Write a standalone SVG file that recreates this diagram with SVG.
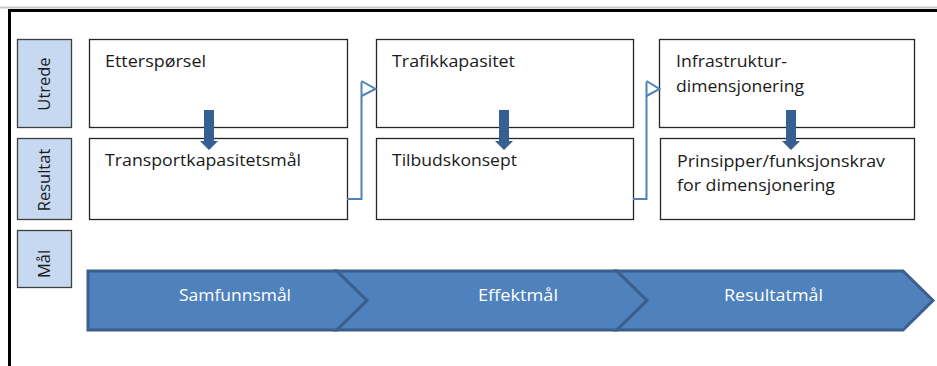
<svg xmlns="http://www.w3.org/2000/svg" width="937" height="366" viewBox="0 0 937 366">
<style>
.side{fill:#c6d9f1;stroke:#3f3f3f;stroke-width:1.3}
.box{fill:#fff;stroke:#262626;stroke-width:1.3}
.t{font-family:"Open Sans","Liberation Sans",sans-serif;font-size:16.5px;fill:#1a1a1a}
.st{font-family:"Open Sans","Liberation Sans",sans-serif;font-size:16.5px;fill:#1a1a1a;text-anchor:middle}
.w{font-family:"Open Sans","Liberation Sans",sans-serif;font-size:16.5px;fill:#fff}
.chev{fill:#4f81bd;stroke:#3a5f8e;stroke-width:3;stroke-linejoin:miter}
.down{fill:#376092}
.elbow{fill:none;stroke:#4f81bd;stroke-width:2}
</style>
<rect width="937" height="366" fill="#fff"/>
<line x1="0" y1="7.5" x2="937" y2="7.5" stroke="#c8c8c8" stroke-width="2"/>
<line x1="8" y1="10.5" x2="937" y2="10.5" stroke="#000" stroke-width="3"/>
<line x1="9.5" y1="9" x2="9.5" y2="366" stroke="#000" stroke-width="3"/>

<g id="side-utrede"><rect class="side" x="17.5" y="39.5" width="54" height="88"/><text class="st" transform="translate(50,84) rotate(-90)">Utrede</text></g>
<g id="side-resultat"><rect class="side" x="17.5" y="138.5" width="54" height="81"/><text class="st" transform="translate(50,180) rotate(-90)">Resultat</text></g>
<g id="side-maal"><rect class="side" x="17.5" y="230.5" width="54" height="57"/><text class="st" transform="translate(50,264) rotate(-90)">Mål</text></g>

<g id="n-etterspoersel"><rect class="box" x="89.5" y="39.5" width="258" height="88"/><text class="t" x="105" y="67" textLength="101" lengthAdjust="spacingAndGlyphs">Etterspørsel</text></g>
<g id="n-transportkapasitetsmaal"><rect class="box" x="89.5" y="138.5" width="258" height="81"/><text class="t" x="105" y="166" textLength="196" lengthAdjust="spacingAndGlyphs">Transportkapasitetsmål</text></g>
<g id="n-trafikkapasitet"><rect class="box" x="376.5" y="39.5" width="257" height="88"/><text class="t" x="392" y="67" textLength="123" lengthAdjust="spacingAndGlyphs">Trafikkapasitet</text></g>
<g id="n-tilbudskonsept"><rect class="box" x="376.5" y="138.5" width="257" height="81"/><text class="t" x="392" y="166" textLength="125" lengthAdjust="spacingAndGlyphs">Tilbudskonsept</text></g>
<g id="n-infrastruktur"><rect class="box" x="659.5" y="39.5" width="255" height="88"/><text class="t" x="676" y="67" textLength="111" lengthAdjust="spacingAndGlyphs">Infrastruktur-</text><text class="t" x="676" y="92" textLength="128" lengthAdjust="spacingAndGlyphs">dimensjonering</text></g>
<g id="n-prinsipper"><rect class="box" x="660.5" y="138.5" width="254" height="81"/><text class="t" x="677" y="167" textLength="208" lengthAdjust="spacingAndGlyphs">Prinsipper/funksjonskrav</text><text class="t" x="677" y="191" textLength="158" lengthAdjust="spacingAndGlyphs">for dimensjonering</text></g>

<g id="goals">
<g id="g-samfunnsmaal"><path class="chev" d="M88,271 L337,271 L367,300.5 L337,330 L88,330 Z"/><text class="w" x="179" y="301" textLength="112" lengthAdjust="spacingAndGlyphs">Samfunnsmål</text></g>
<g id="g-effektmaal"><path class="chev" d="M337,271 L617,271 L647,300.5 L617,330 L337,330 L367,300.5 Z"/><text class="w" x="478" y="301" textLength="80" lengthAdjust="spacingAndGlyphs">Effektmål</text></g>
<g id="g-resultatmaal"><path class="chev" d="M617,271 L903,271 L933,300.5 L903,330 L617,330 L647,300.5 Z"/><text class="w" x="724" y="301" textLength="99" lengthAdjust="spacingAndGlyphs">Resultatmål</text></g>
</g>

<g id="connectors">
<path class="down" d="M204,110 H214 V141 H218 L209,150 L200,141 H204 Z"/>
<path class="down" d="M499,110 H509 V141 H513 L504,150 L495,141 H499 Z"/>
<path class="down" d="M786,110 H796 V141 H800 L791,150 L782,141 H786 Z"/>
<path class="elbow" d="M347,199 H361.5 V82"/>
<path class="elbow" d="M361.5,81 L375.5,89 L361.5,96"/>
<path class="elbow" d="M633,199 H646.5 V82"/>
<path class="elbow" d="M646.5,81 L659.5,89 L646.5,96"/>
</g>
</svg>
